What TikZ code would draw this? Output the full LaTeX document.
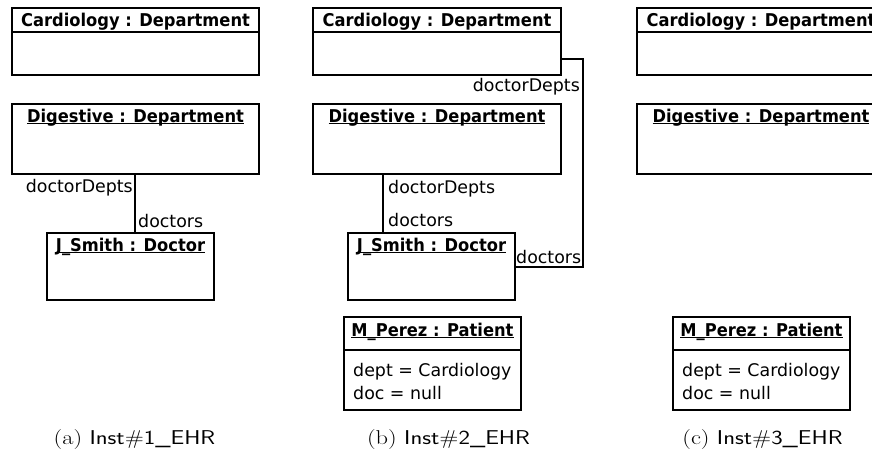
\documentclass[tikz,border=0pt]{standalone}
\usepackage{fontspec}
\newfontfamily\dv{DejaVu Sans}
\newcommand\myul[1]{\setbox0\hbox{#1}\rlap{\rule[-2.2pt]{\wd0}{1.2pt}}\box0}
\newcommand\ttlx[1]{\scalebox{1}[1.08]{#1}}
\tikzset{
  objbox/.style={draw, line width=1.2pt, rectangle, anchor=north west, inner sep=0pt, outer sep=0pt},
  ttl/.style={anchor=base, inner sep=0pt, font=\dv\bfseries\fontsize{16.3}{20}\selectfont},
  lbl/.style={inner sep=0pt, font=\dv\fontsize{17.4}{21}\selectfont},
  conn/.style={line width=1.2pt},
  captxt/.style={anchor=base, inner sep=0pt}
}
\newcommand\capt[2]{\scalebox{1.22}[1]{\fontsize{20}{24}\selectfont (#1) \textsf{Inst\##2\_EHR}}}
\begin{document}
\begin{tikzpicture}[x=1pt,y=-1pt]
\useasboundingbox (0,0) rectangle (872,452);
% ---------------- panel (a)
\node[objbox, minimum width=247pt, minimum height=67pt] (card1) at (12,8) {};
\draw[conn] (card1.west |- 0,32) -- (card1.east |- 0,32);
\node[ttl] (card1t) at (135.5,27) {\ttlx{Cardiology : Department}};
\node[objbox, minimum width=247pt, minimum height=70pt] (dig1) at (12,104) {};
\node[ttl] (dig1t) at (135.5,122) {\myul{\ttlx{Digestive : Department}}};
\node[objbox, minimum width=167pt, minimum height=67pt] (js1) at (47,233) {};
\node[ttl] (js1t) at (130.5,251) {\myul{\ttlx{J\_Smith : Doctor}}};
\coordinate (xa) at (135,0);
\draw[conn] (dig1.south -| xa) -- (js1.north -| xa);
\node[lbl, anchor=base east] (la1) at (133,192) {doctorDepts};
\node[lbl, anchor=base west] (la2) at (138,227) {doctors};
\node[captxt] (capa) at (134.5,444) {\capt{a}{1}};
% ---------------- panel (b)
\node[objbox, minimum width=248pt, minimum height=67pt] (card2) at (313,8) {};
\draw[conn] (card2.west |- 0,32) -- (card2.east |- 0,32);
\node[ttl] (card2t) at (437,27) {\ttlx{Cardiology : Department}};
\node[objbox, minimum width=248pt, minimum height=70pt] (dig2) at (313,104) {};
\node[ttl] (dig2t) at (437,122) {\myul{\ttlx{Digestive : Department}}};
\node[objbox, minimum width=167pt, minimum height=67pt] (js2) at (348,233) {};
\node[ttl] (js2t) at (431.5,251) {\myul{\ttlx{J\_Smith : Doctor}}};
\coordinate (xb) at (383,0);
\draw[conn] (dig2.south -| xb) -- (js2.north -| xb);
\node[lbl, anchor=base west] (lb1) at (388,193) {doctorDepts};
\node[lbl, anchor=base west] (lb2) at (388,226) {doctors};
\coordinate (rt) at (583,59);
\coordinate (rb) at (583,267);
\draw[conn] (rt -| card2.east) -- (rt) -- (rb) -- (rb -| js2.east);
\node[lbl, anchor=base east] (lb3) at (580,92) {doctorDepts};
\node[lbl, anchor=base west] (lb4) at (516,263) {doctors};
\node[objbox, minimum width=177pt, minimum height=93pt] (pat2) at (344,317) {};
\draw[conn] (pat2.west |- 0,350) -- (pat2.east |- 0,350);
\node[ttl] (pat2t) at (432.5,336) {\myul{\ttlx{M\_Perez : Patient}}};
\node[lbl, anchor=base west] (pat2a) at (353,376) {dept = Cardiology};
\node[lbl, anchor=base west] (pat2b) at (353,399) {doc = null};
\node[captxt] (capb) at (448.5,444) {\capt{b}{2}};
% ---------------- panel (c)
\node[objbox, minimum width=248pt, minimum height=67pt] (card3) at (637,8) {};
\draw[conn] (card3.west |- 0,32) -- (card3.east |- 0,32);
\node[ttl] (card3t) at (761,27) {\ttlx{Cardiology : Department}};
\node[objbox, minimum width=248pt, minimum height=70pt] (dig3) at (637,104) {};
\node[ttl] (dig3t) at (761,122) {\myul{\ttlx{Digestive : Department}}};
\node[objbox, minimum width=177pt, minimum height=93pt] (pat3) at (673,317) {};
\draw[conn] (pat3.west |- 0,350) -- (pat3.east |- 0,350);
\node[ttl] (pat3t) at (761.5,336) {\myul{\ttlx{M\_Perez : Patient}}};
\node[lbl, anchor=base west] (pat3a) at (682,376) {dept = Cardiology};
\node[lbl, anchor=base west] (pat3b) at (682,399) {doc = null};
\node[captxt] (capc) at (762.5,444) {\capt{c}{3}};
\end{tikzpicture}
\end{document}
